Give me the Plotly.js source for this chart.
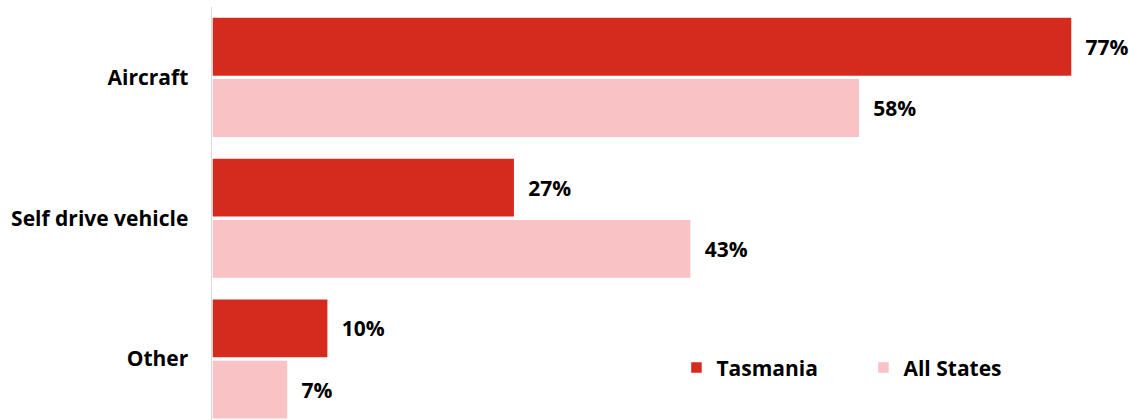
<!DOCTYPE html>
<html>
<head>
<meta charset="utf-8">
<script src="https://cdn.plot.ly/plotly-3.0.1.min.js"></script>
<style>html,body{margin:0;padding:0;background:#fff;}#chart{width:1129px;height:420px;}</style>
</head>
<body>
<div id="chart"></div>
<script>
const categories = ["Aircraft", "Self drive vehicle", "Other"];
const tasmania = [77, 27.1, 10.4];
const allStates = [58, 42.9, 6.8];
const seriesNames = ["Tasmania", "All States"];

const font = "'Open Sans', sans-serif";
const lab = v => "\u2002" + Math.round(v) + "%";

const traces = [
  {
    type: "bar", orientation: "h", name: seriesNames[0],
    y: categories, x: tasmania,
    text: tasmania.map(lab), textposition: "outside", cliponaxis: false,
    textfont: {family: font, size: 21, color: "#000", weight: "bold"},
    marker: {color: "#D52B1E", line: {color: "#fff", width: 1.5}},
    hoverinfo: "none"
  },
  {
    type: "bar", orientation: "h", name: seriesNames[1],
    y: categories, x: allStates,
    text: allStates.map(lab), textposition: "outside", cliponaxis: false,
    textfont: {family: font, size: 21, color: "#000", weight: "bold"},
    marker: {color: "#F9C3C6", line: {color: "#fff", width: 1.5}},
    hoverinfo: "none"
  }
];

const layout = {
  width: 1129, height: 420,
  margin: {l: 212, r: 0, t: 7, b: 0},
  paper_bgcolor: "#fff", plot_bgcolor: "#fff",
  barmode: "group", bargap: 0.13, bargroupgap: 0.03,
  font: {family: font, size: 21, color: "#000"},
  xaxis: {range: [0, 82.1], showgrid: false, zeroline: false, showticklabels: false, showline: false, fixedrange: true},
  yaxis: {
    type: "category", range: [2.433, -0.5],
    showgrid: false, zeroline: false,
    showline: true, linecolor: "#D9D9D9", linewidth: 1.5,
    ticks: "", ticklabelstandoff: 18,
    tickfont: {family: font, size: 21, color: "#000", weight: "bold"},
    fixedrange: true
  },
  showlegend: true,
  legend: {
    orientation: "h", x: 0.5065, xanchor: "left", y: 0.126, yanchor: "middle",
    font: {family: font, size: 21, color: "#000", weight: "bold"},
    entrywidth: 142, entrywidthmode: "pixels",
    traceorder: "normal", bgcolor: "rgba(0,0,0,0)"
  }
};

Plotly.newPlot("chart", traces, layout, {displayModeBar: false, staticPlot: true});
</script>
</body>
</html>
